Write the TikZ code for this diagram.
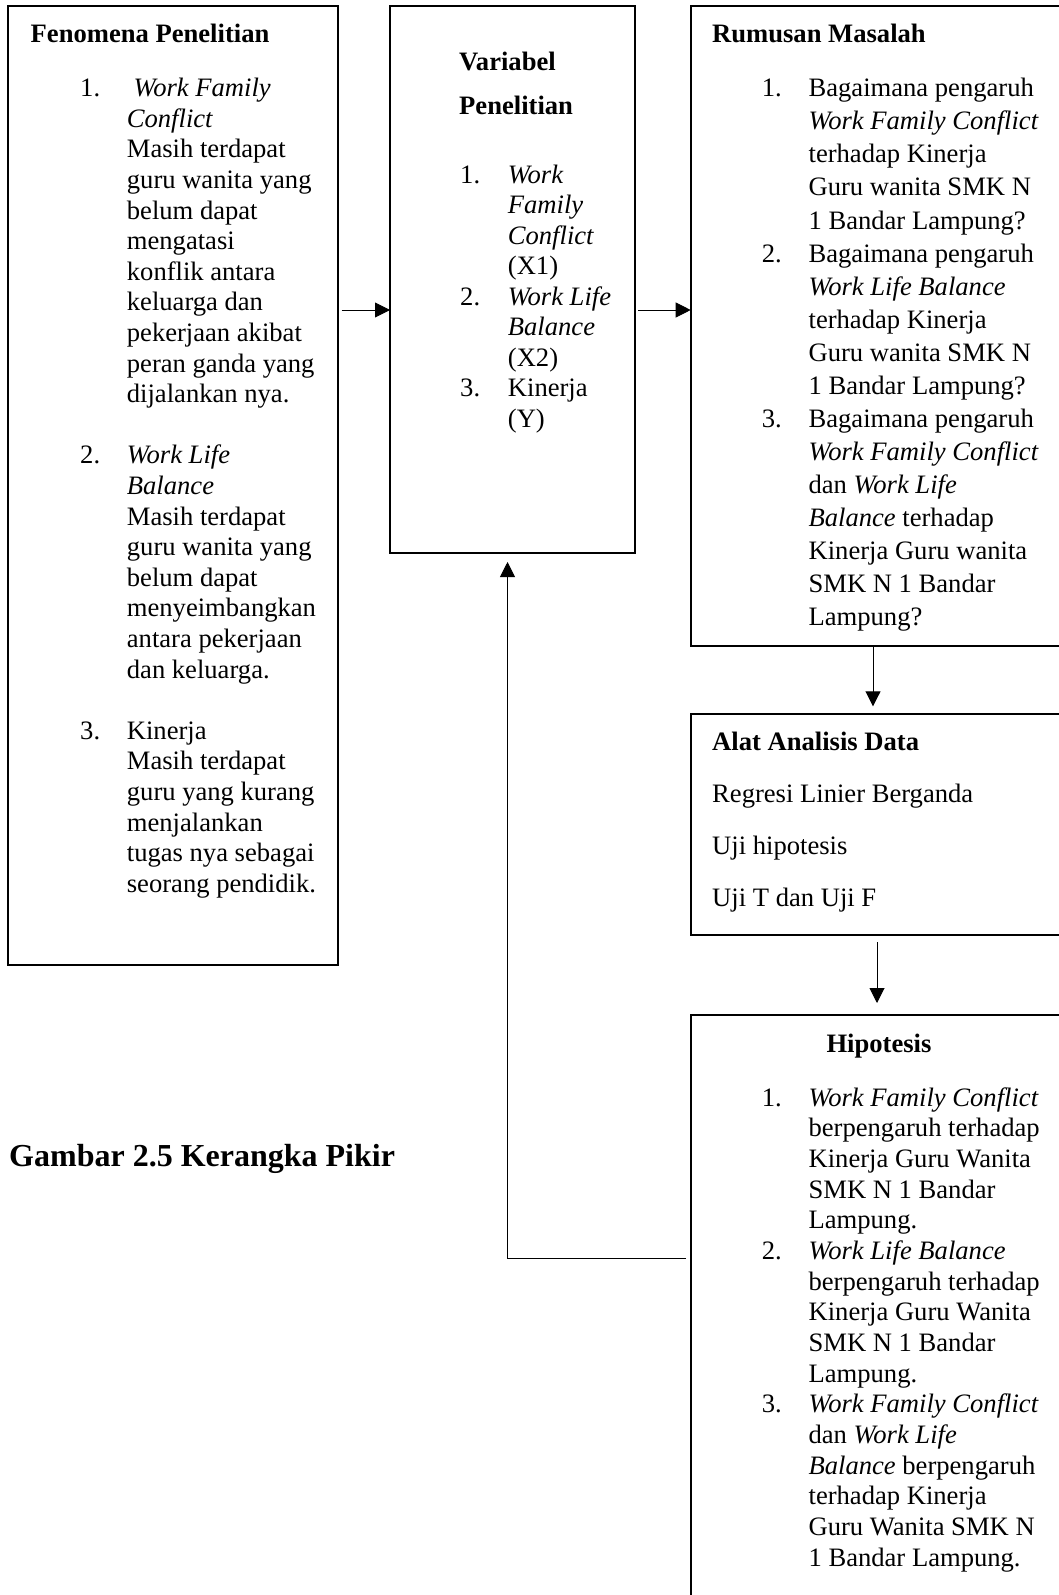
\documentclass[tikz,border=0pt]{standalone}
\usepackage{fontspec}
\setmainfont{Liberation Serif}
\usepackage{tikz}
\usetikzlibrary{arrows.meta}
\newcommand{\hurufisi}[1]{\fontsize{26.6pt}{#1pt}\selectfont}
\tikzstyle{kotak} = [rectangle, draw=black, line width=1.7pt, inner sep=0pt,
    outer sep=0pt, anchor=north west]
\tikzstyle{isi} = [inner sep=0pt, anchor=base west]
\tikzstyle{arrow} = [line width=0.9pt, -{Triangle[length=15pt,width=15pt]}]

\begin{document}
\begin{tikzpicture}[x=1pt, y=-1pt]
            \useasboundingbox[fill=white] (0,0) rectangle (1059,1595);
            \clip (0,0) rectangle (1059,1595);

            \node (fen) [kotak, minimum width=329.4pt, minimum height=959.3pt] at (8.3,5.7) {};
            \node (var) [kotak, minimum width=245pt, minimum height=547.3pt] at (390,5.7) {};
            \node (rum) [kotak, minimum width=450pt, minimum height=640.3pt] at (690.7,5.7) {};
            \node (alat) [kotak, minimum width=450pt, minimum height=220.7pt] at (690.7,714.3) {};
            \node (hip) [kotak, minimum width=450pt, minimum height=700pt] at (690.7,1015) {};

            \node (fenjudul) [isi, font=\hurufisi{30}\bfseries] at (30.5,42.7) {Fenomena Penelitian};
            \node (fenisi) [isi, font=\hurufisi{30.6}] at (80,96.7) {\begin{tabular}[t]{@{}p{46.7pt}@{}l@{}}
                1. & \ \textit{Work Family}\\
                   & \textit{Conflict}\\
                   & Masih terdapat\\
                   & guru wanita yang\\
                   & belum dapat\\
                   & mengatasi\\
                   & konflik antara\\
                   & keluarga dan\\
                   & pekerjaan akibat\\
                   & peran ganda yang\\
                   & dijalankan nya.\\
                   & \\
                2. & \textit{Work Life}\\
                   & \textit{Balance}\\
                   & Masih terdapat\\
                   & guru wanita yang\\
                   & belum dapat\\
                   & menyeimbangkan\\
                   & antara pekerjaan\\
                   & dan keluarga.\\
                   & \\
                3. & Kinerja\\
                   & Masih terdapat\\
                   & guru yang kurang\\
                   & menjalankan\\
                   & tugas nya sebagai\\
                   & seorang pendidik.
            \end{tabular}};

            \node (varjudul) [isi, font=\hurufisi{44}\bfseries] at (459,70.8) {\begin{tabular}[t]{@{}l@{}}
                Variabel\\
                Penelitian
            \end{tabular}};
            \node (varisi) [isi, font=\hurufisi{30.5}] at (460,183) {\begin{tabular}[t]{@{}p{47.7pt}@{}l@{}}
                1. & \textit{Work}\\
                   & \textit{Family}\\
                   & \textit{Conflict}\\
                   & (X1)\\
                2. & \textit{Work Life}\\
                   & \textit{Balance}\\
                   & (X2)\\
                3. & Kinerja\\
                   & (Y)
            \end{tabular}};

            \node (rumjudul) [isi, font=\hurufisi{30}\bfseries] at (712,42.5) {Rumusan Masalah};
            \node (rumisi) [isi, font=\hurufisi{33.06}] at (761.7,96.8) {\begin{tabular}[t]{@{}p{46.7pt}@{}l@{}}
                1. & Bagaimana pengaruh\\
                   & \textit{Work Family Conflict}\\
                   & terhadap Kinerja\\
                   & Guru wanita SMK N\\
                   & 1 Bandar Lampung?\\
                2. & Bagaimana pengaruh\\
                   & \textit{Work Life Balance}\\
                   & terhadap Kinerja\\
                   & Guru wanita SMK N\\
                   & 1 Bandar Lampung?\\
                3. & Bagaimana pengaruh\\
                   & \textit{Work Family Conflict}\\
                   & dan \textit{Work Life}\\
                   & \textit{Balance} terhadap\\
                   & Kinerja Guru wanita\\
                   & SMK N 1 Bandar\\
                   & Lampung?
            \end{tabular}};

            \node (alatisi) [isi, font=\hurufisi{52}] at (712,750) {\begin{tabular}[t]{@{}l@{}}
                \textbf{Alat Analisis Data}\\
                Regresi Linier Berganda\\
                Uji hipotesis\\
                Uji T dan Uji F
            \end{tabular}};

            \node (hipjudul) [inner sep=0pt, anchor=base, font=\hurufisi{30}\bfseries] at (879,1052) {Hipotesis};
            \node (hipisi) [isi, font=\hurufisi{30.67}] at (761.7,1106) {\begin{tabular}[t]{@{}p{46.7pt}@{}l@{}}
                1. & \textit{Work Family Conflict}\\
                   & berpengaruh terhadap\\
                   & Kinerja Guru Wanita\\
                   & SMK N 1 Bandar\\
                   & Lampung.\\
                2. & \textit{Work Life Balance}\\
                   & berpengaruh terhadap\\
                   & Kinerja Guru Wanita\\
                   & SMK N 1 Bandar\\
                   & Lampung.\\
                3. & \textit{Work Family Conflict}\\
                   & dan \textit{Work Life}\\
                   & \textit{Balance} berpengaruh\\
                   & terhadap Kinerja\\
                   & Guru Wanita SMK N\\
                   & 1 Bandar Lampung.
            \end{tabular}};

            \node (judul) [isi, font=\fontsize{32pt}{36pt}\selectfont\bfseries] at (9,1166) {Gambar 2.5 Kerangka Pikir};

            \coordinate (atas) at (0,310);
            \coordinate (turun1) at (873,0);
            \coordinate (turun2) at (877,0);
            \coordinate (balik) at (507.5,1258.3);

            \draw [arrow] ([xshift=4pt]fen.east |- atas) -- (var.west |- atas);
            \draw [arrow] ([xshift=3pt]var.east |- atas) -- (rum.west |- atas);
            \draw [arrow] (rum.south -| turun1) -- ([yshift=8pt]alat.north -| turun1);
            \draw [arrow] ([yshift=-7pt]alat.south -| turun2) -- ([yshift=12pt]hip.north -| turun2);
            \draw [arrow] ([xshift=-4.5pt]hip.west |- balik) -| ([yshift=-9pt]var.south -| balik);
        \end{tikzpicture}
\end{document}
